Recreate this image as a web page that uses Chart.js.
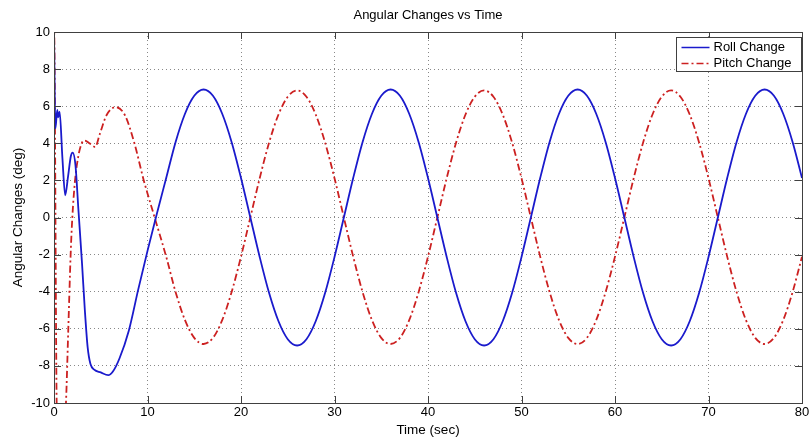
<!DOCTYPE html>
<html>
<head>
<meta charset="utf-8">
<script src="https://cdn.jsdelivr.net/npm/chart.js@4"></script>
<style>
  html, body { margin: 0; padding: 0; background: #fff; }
  #wrap { width: 812px; height: 438px; }
</style>
</head>
<body>
<div id="wrap"><canvas id="angleChart" width="812" height="438"></canvas></div>
<script>
// values
var rollTime = [0, 0.15, 0.35, 0.45, 0.6, 0.9, 1.2, 1.5, 1.8, 2.0, 2.3, 2.6, 3.0, 3.3, 3.6, 3.9, 4.3, 5.0, 5.8, 6.3, 7, 8, 9, 10,
  11, 12, 13, 14, 15, 16, 17, 18, 19, 20, 21, 22, 23, 24, 25, 26, 27, 28, 29, 30,
  31, 32, 33, 34, 35, 36, 37, 38, 39, 40, 41, 42, 43, 44, 45, 46, 47, 48, 49, 50,
  51, 52, 53, 54, 55, 56, 57, 58, 59, 60, 61, 62, 63, 64, 65, 66, 67, 68, 69, 70,
  71, 72, 73, 74, 75, 76, 77, 78, 79, 80];
var rollChange = [10, 4.8, 5.8, 5.4, 5.7, 3.2, 1.2, 2.2, 3.3, 3.5, 2.8, 0.5, -2.5, -5.0, -7.0, -7.9, -8.2, -8.35, -8.5, -8.3, -7.6, -6.1, -3.9, -1.8,
  0.2, 2.13, 4.06, 5.58, 6.56, 6.9, 6.56, 5.58, 4.06, 2.13, 0, -2.13, -4.06, -5.58, -6.56, -6.9, -6.56, -5.58, -4.06, -2.13,
  0, 2.13, 4.06, 5.58, 6.56, 6.9, 6.56, 5.58, 4.06, 2.13, 0, -2.13, -4.06, -5.58, -6.56, -6.9, -6.56, -5.58, -4.06, -2.13,
  0, 2.13, 4.06, 5.58, 6.56, 6.9, 6.56, 5.58, 4.06, 2.13, 0, -2.13, -4.06, -5.58, -6.56, -6.9, -6.56, -5.58, -4.06, -2.13,
  0, 2.13, 4.06, 5.58, 6.56, 6.9, 6.56, 5.58, 4.06, 2.13];

var pitchTime = [0, 0.05, 0.3, 0.8, 1.28, 1.53, 1.78, 1.96, 2.25, 2.6, 2.96, 3.3, 3.8, 4.4, 4.9, 5.6, 6.6, 7.6, 8.6, 9.6, 10,
  11, 12, 13, 14, 15, 16, 17, 18, 19, 20, 21, 22, 23, 24, 25, 26, 27, 28, 29, 30,
  31, 32, 33, 34, 35, 36, 37, 38, 39, 40, 41, 42, 43, 44, 45, 46, 47, 48, 49, 50,
  51, 52, 53, 54, 55, 56, 57, 58, 59, 60, 61, 62, 63, 64, 65, 66, 67, 68, 69, 70,
  71, 72, 73, 74, 75, 76, 77, 78, 79, 80];
var pitchChange = [10.5, 9, -10.5, -14, -10, -6, -2, 0, 2, 3.3, 4.0, 4.15, 4.0, 3.8, 4.5, 5.5, 5.95, 5.5, 4.0, 2.0, 1.3,
  -0.4, -2.11, -4.01, -5.52, -6.49, -6.82, -6.49, -5.52, -4.01, -2.11, 0, 2.12, 4.03, 5.54, 6.51, 6.85, 6.51, 5.54, 4.03, 2.12,
  0, -2.11, -4.01, -5.52, -6.49, -6.82, -6.49, -5.52, -4.01, -2.11, 0, 2.12, 4.03, 5.54, 6.51, 6.85, 6.51, 5.54, 4.03, 2.12,
  0, -2.11, -4.01, -5.52, -6.49, -6.82, -6.49, -5.52, -4.01, -2.11, 0, 2.12, 4.03, 5.54, 6.51, 6.85, 6.51, 5.54, 4.03, 2.12,
  0, -2.11, -4.01, -5.52, -6.49, -6.82, -6.49, -5.52, -4.01, -2.11];

var seriesNames = ["Roll Change", "Pitch Change"];
var xTicks = [0, 10, 20, 30, 40, 50, 60, 70, 80];
var yTicks = [-10, -8, -6, -4, -2, 0, 2, 4, 6, 8, 10];

function pairs(xs, ys) {
  return xs.map(function (x, i) { return { x: x, y: ys[i] }; });
}

var FONT = "'Liberation Sans', Arial, Helvetica, sans-serif";
var ROLL_COLOR = '#1a1acc';
var PITCH_COLOR = '#cc2020';
var PITCH_DASH = [7, 3, 2, 3];

// matlab style box with inward ticks
var boxPlugin = {
  id: 'box',
  afterDatasetsDraw: function (chart) {
    var ctx = chart.ctx, a = chart.chartArea;
    var sx = chart.scales.x, sy = chart.scales.y;
    ctx.save();
    ctx.strokeStyle = '#404040';
    ctx.lineWidth = 1;
    ctx.beginPath();
    xTicks.forEach(function (v) {
      var px = Math.round(sx.getPixelForValue(v)) + 0.5;
      ctx.moveTo(px, a.bottom); ctx.lineTo(px, a.bottom - 7);
      ctx.moveTo(px, a.top); ctx.lineTo(px, a.top + 7);
    });
    yTicks.forEach(function (v) {
      var py = Math.round(sy.getPixelForValue(v)) + 0.5;
      ctx.moveTo(a.left, py); ctx.lineTo(a.left + 7, py);
      ctx.moveTo(a.right, py); ctx.lineTo(a.right - 7, py);
    });
    ctx.stroke();
    ctx.strokeRect(Math.round(a.left) + 0.5, Math.round(a.top) + 0.5,
      Math.round(a.right - a.left), Math.round(a.bottom - a.top));
    ctx.restore();
  },
  afterDraw: function (chart) {
    // legend box inside the axes, top right
    var ctx = chart.ctx, a = chart.chartArea;
    var w = 125, h = 34;
    var bx = Math.round(a.right) - w - 1 + 0.5, by = Math.round(a.top) + 5 + 0.5;
    ctx.save();
    ctx.fillStyle = '#fff';
    ctx.fillRect(bx, by, w, h);
    ctx.strokeStyle = '#404040';
    ctx.lineWidth = 1;
    ctx.strokeRect(bx, by, w, h);
    ctx.font = '13px ' + FONT;
    ctx.textBaseline = 'middle';
    chart.data.datasets.forEach(function (ds, i) {
      var cy = by + 10 + i * 16;
      ctx.strokeStyle = ds.borderColor;
      ctx.lineWidth = 1.5;
      ctx.setLineDash(ds.borderDash || []);
      ctx.beginPath();
      ctx.moveTo(bx + 5, cy); ctx.lineTo(bx + 33, cy);
      ctx.stroke();
      ctx.setLineDash([]);
      ctx.fillStyle = '#000';
      ctx.fillText(ds.label, bx + 37, cy);
    });
    ctx.restore();
  }
};

var ctxA = document.getElementById("angleChart").getContext('2d');
var angleChart = new Chart(ctxA, {
  type: 'line',
  data: {
    datasets: [{
        label: seriesNames[0],
        data: pairs(rollTime, rollChange),
        borderColor: ROLL_COLOR,
        borderWidth: 1.8,
        pointRadius: 0,
        cubicInterpolationMode: 'monotone',
        fill: false
      },
      {
        label: seriesNames[1],
        data: pairs(pitchTime, pitchChange),
        borderColor: PITCH_COLOR,
        borderWidth: 1.8,
        borderDash: PITCH_DASH,
        pointRadius: 0,
        cubicInterpolationMode: 'monotone',
        fill: false
      }
    ]
  },
  plugins: [boxPlugin],
  options: {
    responsive: false,
    animation: false,
    events: [],
    layout: { padding: { left: 0, right: 10, top: 0, bottom: 0 } },
    plugins: {
      legend: { display: false },
      tooltip: { enabled: false },
      title: {
        display: true,
        fullSize: false,
        text: 'Angular Changes vs Time',
        color: '#000',
        font: { family: FONT, size: 13, weight: 'normal' },
        padding: { top: 8, bottom: 8.4 }
      }
    },
    scales: {
      x: {
        type: 'linear',
        min: 0,
        max: 80,
        afterBuildTicks: function (s) { s.ticks = xTicks.map(function (v) { return { value: v }; }); },
        afterFit: function (s) { s.height = 35; },
        grid: { color: '#888', drawTicks: false, lineWidth: 1 },
        border: { display: false, dash: [1, 3] },
        ticks: { color: '#000', font: { family: FONT, size: 13 }, padding: 2, maxRotation: 0 },
        title: {
          display: true, text: 'Time (sec)', color: '#000',
          font: { family: FONT, size: 13.5 }, padding: { top: 0, bottom: 0 }
        }
      },
      y: {
        min: -10,
        max: 10,
        afterBuildTicks: function (s) { s.ticks = yTicks.map(function (v) { return { value: v }; }); },
        afterFit: function (s) { s.width = 54; },
        grid: { color: '#888', drawTicks: false, lineWidth: 1 },
        border: { display: false, dash: [1, 3] },
        ticks: { color: '#000', font: { family: FONT, size: 13 }, padding: 4 },
        title: {
          display: true, text: 'Angular Changes (deg)', color: '#000',
          font: { family: FONT, size: 13.5 }, padding: { top: 10, bottom: 0 }
        }
      }
    }
  }
});
</script>
</body>
</html>
